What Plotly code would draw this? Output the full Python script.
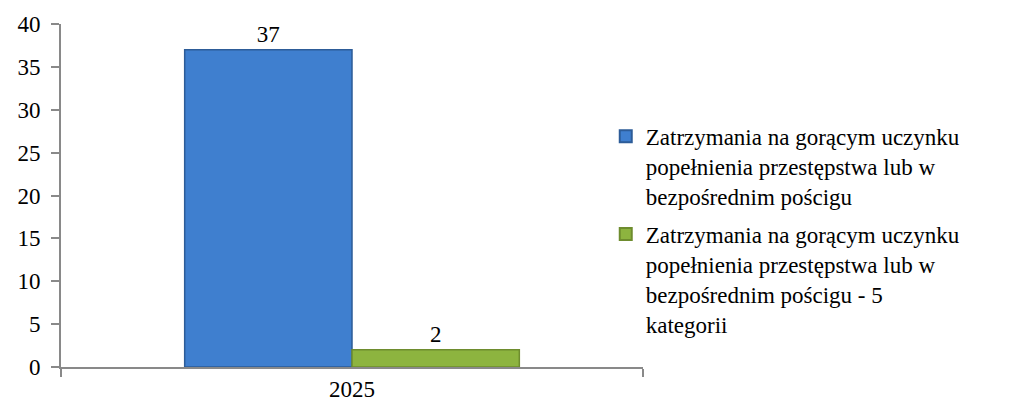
import plotly.graph_objects as go

categories = ["2025"]
series_names = [
    "Zatrzymania na gorącym uczynku<br>popełnienia przestępstwa lub w<br>bezpośrednim pościgu",
    "Zatrzymania na gorącym uczynku<br>popełnienia przestępstwa lub w<br>bezpośrednim pościgu - 5<br>kategorii",
]
series_values = [[37], [2]]
colors = ["#3F7FCF", "#8DB43F"]
edge_colors = ["#2D5C98", "#6E8C2E"]
tick_values = [0, 5, 10, 15, 20, 25, 30, 35, 40]

FONT = "Times New Roman"
FS = 23

fig = go.Figure()
for i, (name, vals, c, ec) in enumerate(zip(series_names, series_values, colors, edge_colors)):
    fig.add_trace(go.Bar(
        x=categories, y=vals, name=name, legendgroup=f"g{i}",
        marker=dict(color=c, line=dict(color=ec, width=1.5)),
        text=[str(v) for v in vals], textposition="outside",
        textfont=dict(family=FONT, size=FS, color="#000000"),
        cliponaxis=False,
    ))

fig.update_layout(
    width=1013, height=407,
    margin=dict(l=61, r=370, t=24, b=40, autoexpand=False),
    paper_bgcolor="white", plot_bgcolor="white",
    barmode="group", bargap=0.425, bargroupgap=0,
    font=dict(family=FONT, size=FS, color="#000000"),
    showlegend=True,
    legend=dict(
        x=0.936, xanchor="left", y=0.735, yanchor="top",
        font=dict(family=FONT, size=FS, color="#000000"),
        tracegroupgap=5, bgcolor="rgba(0,0,0,0)",
        itemsizing="constant", valign="top", traceorder="grouped",
    ),
)
fig.update_yaxes(
    range=[0, 40], tickvals=tick_values, showgrid=False,
    showline=True, linecolor="#898989", linewidth=2,
    ticks="outside", ticklen=8, tickcolor="#898989", tickwidth=2,
    tickfont=dict(family=FONT, size=FS), zeroline=False,
    ticklabelstandoff=6, automargin=False,
)
fig.update_xaxes(
    showline=True, linecolor="#898989", linewidth=2,
    ticks="outside", ticklen=8, tickcolor="#898989", tickwidth=2,
    tickson="boundaries", tickfont=dict(family=FONT, size=FS),
    showgrid=False, automargin=False,
)

fig.write_html("out.html", config={"displayModeBar": False},
               post_script="document.body.style.margin='0px';")
